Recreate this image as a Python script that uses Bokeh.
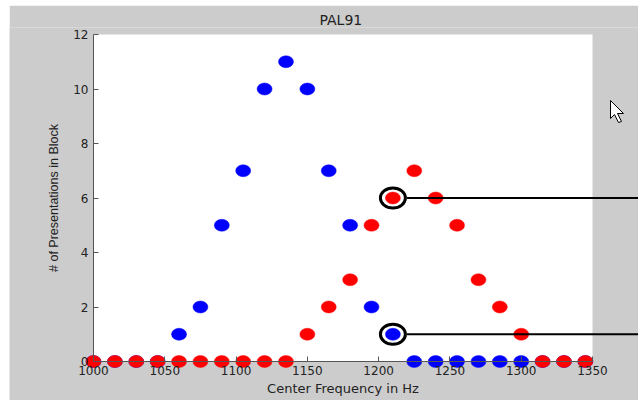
from bokeh.plotting import figure
from bokeh.layouts import column, row
from bokeh.models import Range1d, FixedTicker, BoxAnnotation, ColumnDataSource, Spacer
from bokeh.embed import file_html
from bokeh.resources import INLINE

# ---- data ----
freqs = [1000, 1015, 1030, 1045, 1060, 1075, 1090, 1105, 1120, 1135, 1150, 1165,
         1180, 1195, 1210, 1225, 1240, 1255, 1270, 1285, 1300, 1315, 1330, 1345]
blue_counts = [0, 0, 0, 0, 1, 2, 5, 7, 10, 11, 10, 7,
               5, 2, 1, 0, 0, 0, 0, 0, 0, 0, 0, 0]
red_counts = [0, 0, 0, 0, 0, 0, 0, 0, 0, 0, 1, 2,
              3, 5, 6, 7, 6, 5, 3, 2, 1, 0, 0, 0]
x_ticks = [1000, 1050, 1100, 1150, 1200, 1250, 1300, 1350]
y_ticks = [0, 2, 4, 6, 8, 10, 12]
highlight_index = 14  # 1210 Hz, circled in both series

TICK_FONT = "DejaVu Sans"
LABEL_FONT = "DejaVu Sans"
YLABEL_FONT = "Liberation Sans"
GRAY = "#cccccc"
TXT = "#222222"
AXIS = "#555555"

# ---- layout (pixels inside the figure) ----
W, H = 629, 395
FRAME_TOP = 22
PX_L, PX_R, PX_T, PX_B = 84, 583, 29, 356   # where the axes box sits

x0, x1 = x_ticks[0], x_ticks[-1]
y0, y1 = y_ticks[0], y_ticks[-1]
kx = (PX_R - PX_L) / (x1 - x0)
ky = (PX_B - PX_T) / (y1 - y0)
xr = Range1d(x0 - PX_L / kx, x1 + (W - PX_R) / kx)
yr = Range1d(y0 - (H - PX_B) / ky, y1 + (PX_T - FRAME_TOP) / ky)

p = figure(width=W, height=H, x_range=xr, y_range=yr,
           output_backend="svg", toolbar_location=None,
           min_border_left=0, min_border_right=0,
           min_border_top=FRAME_TOP, min_border_bottom=0,
           title="PAL91")

p.background_fill_color = GRAY
p.border_fill_color = GRAY
p.outline_line_color = None
p.grid.visible = False

# white axes box
p.add_layout(BoxAnnotation(left=x0, right=x1, bottom=y0, top=y1,
                           fill_color="white", fill_alpha=1.0,
                           line_alpha=0, level="underlay"))

p.title.align = "left"
p.title.offset = 310
p.title.standoff = 0
p.title.text_font = LABEL_FONT
p.title.text_font_size = "14px"
p.title.text_font_style = "normal"
p.title.text_color = TXT

for ax in (p.xaxis, p.yaxis):
    ax.major_tick_in = 5
    ax.major_tick_out = 0
    ax.minor_tick_line_color = None
    ax.axis_line_color = AXIS
    ax.major_tick_line_color = AXIS
    ax.major_label_text_font = TICK_FONT
    ax.major_label_text_font_size = "12px"
    ax.major_label_text_color = TXT
    ax.axis_label_text_font_style = "normal"
    ax.axis_label_text_color = TXT

p.xaxis.fixed_location = y0
p.xaxis.bounds = (x0, x1)
p.xaxis.ticker = FixedTicker(ticks=x_ticks)
p.xaxis.major_label_standoff = 4
p.xaxis.axis_label = "Center Frequency in Hz"
p.xaxis.axis_label_text_font = LABEL_FONT
p.xaxis.axis_label_text_font_size = "13px"
p.xaxis.axis_label_standoff = 3

p.yaxis.fixed_location = x0
p.yaxis.bounds = (y0, y1)
p.yaxis.ticker = FixedTicker(ticks=y_ticks)
p.yaxis.major_label_standoff = 5
p.yaxis.axis_label = "# of Presentations in Block"
p.yaxis.axis_label_text_font = YLABEL_FONT
p.yaxis.axis_label_text_font_size = "12.5px"
p.yaxis.axis_label_standoff = 9

src = ColumnDataSource(dict(f=freqs, b=blue_counts, r=red_counts))
p.ellipse(x="f", y="b", source=src, width=15, height=12,
          width_units="screen", height_units="screen",
          fill_color="#0000ff", line_color="#0000ff", line_width=0.5)
p.ellipse(x="f", y="r", source=src, width=15, height=12,
          width_units="screen", height_units="screen",
          fill_color="#ff0000", line_color="#ff0000", line_width=0.5)

# highlighted points: rings and pointer lines to the right edge
hx = freqs[highlight_index]
hy = [red_counts[highlight_index], blue_counts[highlight_index]]
p.ellipse(x=[hx, hx], y=hy, width=25, height=20,
          width_units="screen", height_units="screen",
          fill_color=None, line_color="black", line_width=3)
p.segment(x0=[hx + 14 / kx] * 2, y0=hy, x1=[xr.end] * 2, y1=hy,
          line_color="black", line_width=2)

# mouse pointer seen in the screenshot (shape in pixel offsets from its tip)
tip_px = (601, 95)
cur_dx = [0, 0, 4, 8, 11, 7, 13]
cur_dy = [0, 18, 14, 22, 21, 13, 13]
cx = [xr.start + (tip_px[0] + dx) / kx for dx in cur_dx]
cy = [yr.end - (tip_px[1] + dy - FRAME_TOP) / ky for dy in cur_dy]
p.patch(cx, cy, fill_color="white", line_color="black", line_width=1)

layout = column(Spacer(height=5), row(Spacer(width=9), p))
open("out.html", "w").write(file_html(layout, INLINE))
